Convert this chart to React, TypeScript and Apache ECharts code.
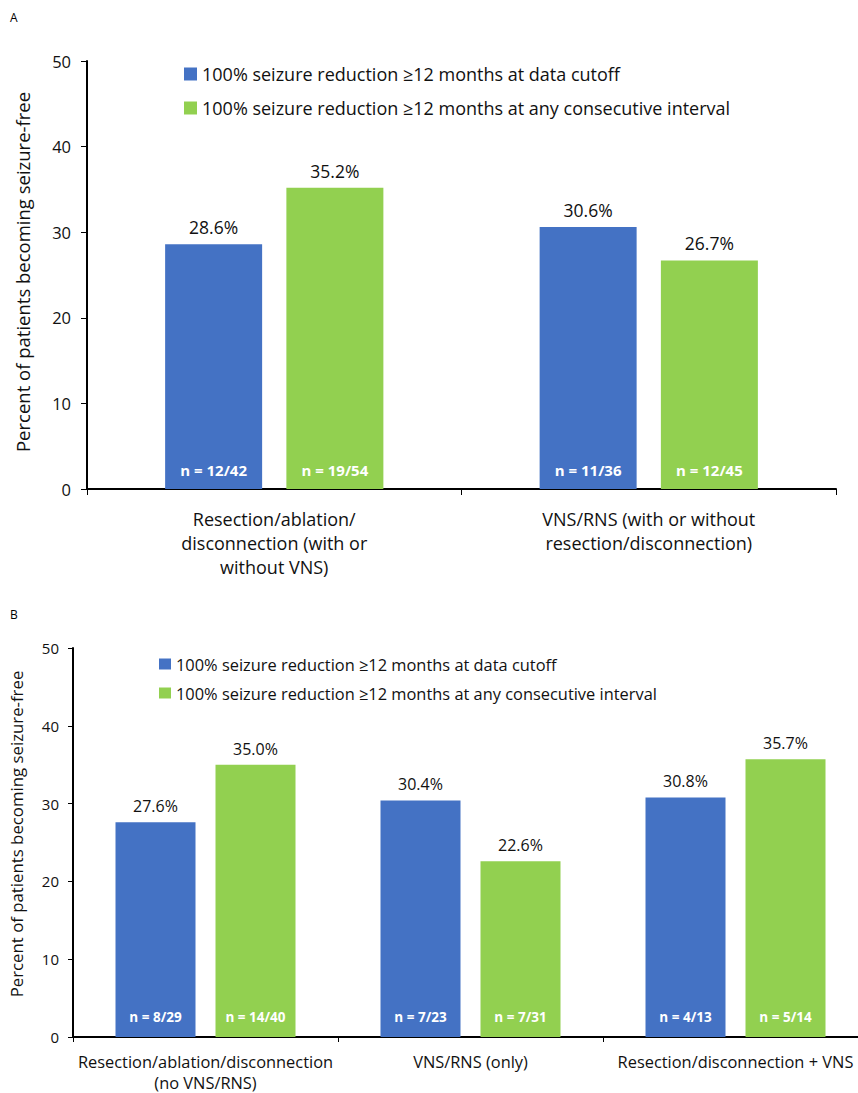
import React, { useEffect, useRef } from "react";
import * as echarts from "echarts";

const legendNames = [
  "100% seizure reduction ≥12 months at data cutoff",
  "100% seizure reduction ≥12 months at any consecutive interval",
];
const yTicksMax = 50;
const yName = "Percent of patients becoming seizure-free";

const catsA = [
  "Resection/ablation/\ndisconnection (with or\nwithout VNS)",
  "VNS/RNS (with or without\nresection/disconnection)",
];
const cutoffA = [28.6, 30.6];
const anyA = [35.2, 26.7];
const nCutoffA = ["n = 12/42", "n = 11/36"];
const nAnyA = ["n = 19/54", "n = 12/45"];

const catsB = [
  "Resection/ablation/disconnection\n(no VNS/RNS)",
  "VNS/RNS (only)",
  "Resection/disconnection + VNS",
];
const cutoffB = [27.6, 30.4, 30.8];
const anyB = [35.0, 22.6, 35.7];
const nCutoffB = ["n = 8/29", "n = 7/23", "n = 4/13"];
const nAnyB = ["n = 14/40", "n = 7/31", "n = 5/14"];

const BLUE = "#4472C4";
const GREEN = "#92D050";
const FONT = "Open Sans";

function makeSeries(
  idx: number,
  vals: number[],
  ns: string[],
  name: string,
  color: string,
  stack: string,
  barWidth: number,
  pctSize: number,
  nSize: number,
  nDist: number
) {
  return [
    {
      type: "bar",
      name,
      xAxisIndex: idx,
      yAxisIndex: idx,
      stack,
      barWidth,
      data: vals,
      itemStyle: { color },
      label: {
        show: true,
        position: "insideBottom",
        distance: nDist,
        color: "#fff",
        fontWeight: "bold",
        fontFamily: FONT,
        fontSize: nSize,
        formatter: (p: any) => ns[p.dataIndex],
      },
    },
    {
      type: "bar",
      name: name + " top",
      xAxisIndex: idx,
      yAxisIndex: idx,
      stack,
      barWidth,
      data: vals.map(() => 0),
      itemStyle: { color },
      label: {
        show: true,
        position: "top",
        distance: 8,
        color: "#111",
        fontFamily: FONT,
        fontSize: pctSize,
        formatter: (p: any) => vals[p.dataIndex].toFixed(1) + "%",
      },
    },
  ];
}

export default function App() {
  const ref = useRef<HTMLDivElement>(null);
  useEffect(() => {
    const chart = echarts.init(ref.current!, null, { renderer: "svg" });
    const axisLine = { show: true, lineStyle: { color: "#000", width: 2 } };
    chart.setOption({
      animation: false,
      textStyle: { fontFamily: FONT },
      graphic: [
        { type: "text", left: 10, top: 11, style: { text: "A", fontSize: 12, fontFamily: FONT, fill: "#000" } },
        { type: "text", left: 10, top: 608, style: { text: "B", fontSize: 12, fontFamily: FONT, fill: "#000" } },
        {
          type: "text",
          x: 22,
          y: 272,
          rotation: Math.PI / 2,
          style: { text: yName, fontSize: 18.5, fontFamily: FONT, fill: "#111", align: "center", verticalAlign: "middle" },
        },
        {
          type: "text",
          x: 16,
          y: 834,
          rotation: Math.PI / 2,
          style: { text: yName, fontSize: 16.8, fontFamily: FONT, fill: "#111", align: "center", verticalAlign: "middle" },
        },
      ],
      legend: [
        {
          data: legendNames,
          orient: "vertical",
          left: 184,
          top: 65,
          padding: 0,
          icon: "rect",
          itemWidth: 13,
          itemHeight: 13,
          itemGap: 16,
          itemTextGap: 6,
          textStyle: { fontSize: 18, color: "#111", fontFamily: FONT },
          selectedMode: false,
        },
        {
          data: legendNames,
          orient: "vertical",
          left: 159,
          top: 656,
          padding: 0,
          icon: "rect",
          itemWidth: 12,
          itemHeight: 11,
          itemGap: 13,
          itemTextGap: 4,
          textStyle: { fontSize: 16.4, color: "#111", fontFamily: FONT },
          selectedMode: false,
        },
      ],
      grid: [
        { left: 87, top: 61, right: 22, bottom: 604, outerBoundsMode: "none", containLabel: false },
        { left: 73, top: 648, right: -10, bottom: 56, outerBoundsMode: "none", containLabel: false },
      ],
      xAxis: [
        {
          type: "category",
          gridIndex: 0,
          data: catsA,
          axisLine,
          axisTick: { show: true, length: 6, lineStyle: { color: "#000", width: 1 } },
          axisLabel: { fontSize: 18, color: "#111", lineHeight: 24, margin: 18, interval: 0, fontFamily: FONT },
        },
        {
          type: "category",
          gridIndex: 1,
          data: catsB,
          axisLine,
          axisTick: { show: true, length: 5, lineStyle: { color: "#000", width: 1 } },
          axisLabel: { fontSize: 16.4, color: "#111", lineHeight: 21, margin: 14, interval: 0, fontFamily: FONT },
        },
      ],
      yAxis: [
        {
          type: "value",
          gridIndex: 0,
          min: 0,
          max: yTicksMax,
          interval: 10,
          axisLine,
          axisTick: { show: true, length: 6, lineStyle: { color: "#000", width: 1 } },
          splitLine: { show: false },
          axisLabel: { fontSize: 16.5, color: "#111", margin: 16, fontFamily: FONT },
        },
        {
          type: "value",
          gridIndex: 1,
          min: 0,
          max: yTicksMax,
          interval: 10,
          axisLine,
          axisTick: { show: true, length: 5, lineStyle: { color: "#000", width: 1 } },
          splitLine: { show: false },
          axisLabel: { fontSize: 15, color: "#111", margin: 14, fontFamily: FONT },
        },
      ],
      series: [
        ...makeSeries(0, cutoffA, nCutoffA, legendNames[0], BLUE, "a0", 97, 17.5, 15, 12),
        ...makeSeries(0, anyA, nAnyA, legendNames[1], GREEN, "a1", 97, 17.5, 15, 12),
        ...makeSeries(1, cutoffB, nCutoffB, legendNames[0], BLUE, "b0", 80, 16, 13.5, 13),
        ...makeSeries(1, anyB, nAnyB, legendNames[1], GREEN, "b1", 80, 16, 13.5, 13),
      ].map((s: any) => ({ ...s, barGap: "25%" })),
    });
    return () => chart.dispose();
  }, []);
  return (
    <div
      ref={ref}
      style={{ position: "absolute", left: 0, top: 0, width: 858, height: 1093, background: "#fff" }}
    />
  );
}
